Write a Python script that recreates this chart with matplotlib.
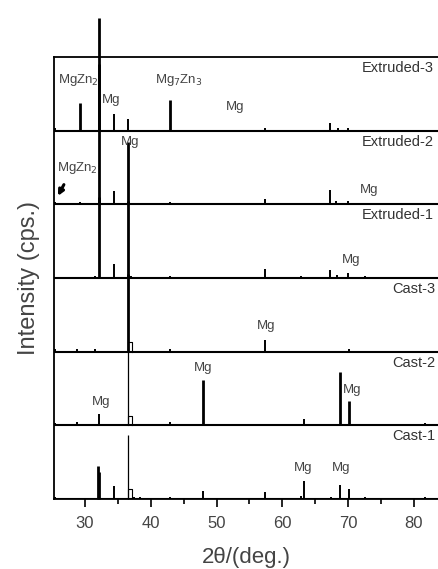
import matplotlib
matplotlib.use("Agg")
import matplotlib.pyplot as plt
from matplotlib.ticker import MultipleLocator

plt.rcParams['font.family'] = ['Liberation Sans', 'DejaVu Sans']

# samples, bottom to top
samples = ["Cast-1", "Cast-2", "Cast-3", "Extruded-1", "Extruded-2", "Extruded-3"]

# peak positions (2 theta, deg) and heights (in panel units) per sample
cast1_pos = [25.5, 32.0, 32.2, 34.4, 36.6, 37.5, 38.3, 43.0, 47.9, 57.4, 62.9, 63.3, 67.4, 68.8, 70.1, 72.6, 81.7]
cast1_h = [0.03, 0.45, 0.36, 0.17, 0.87, 0.03, 0.03, 0.03, 0.11, 0.10, 0.04, 0.25, 0.03, 0.19, 0.13, 0.03, 0.03]

cast2_pos = [25.5, 28.8, 32.2, 36.6, 43.0, 47.9, 63.3, 68.8, 70.1, 81.7]
cast2_h = [0.03, 0.04, 0.15, 1.05, 0.04, 0.62, 0.09, 0.73, 0.33, 0.03]

cast3_pos = [25.5, 28.8, 31.6, 36.5, 43.0, 57.4, 70.1]
cast3_h = [0.03, 0.03, 0.04, 1.05, 0.03, 0.16, 0.03]

ext1_pos = [31.5, 32.1, 34.4, 36.5, 37.0, 43.0, 57.4, 62.8, 67.3, 68.3, 70.0, 72.6]
ext1_h = [0.03, 1.10, 0.19, 1.05, 0.03, 0.03, 0.12, 0.03, 0.11, 0.04, 0.07, 0.03]

ext2_pos = [25.5, 29.2, 32.1, 34.4, 36.5, 43.0, 57.4, 67.3, 68.2, 70.0]
ext2_h = [0.03, 0.03, 1.90, 0.18, 0.84, 0.03, 0.07, 0.19, 0.05, 0.04]

ext3_pos = [25.5, 29.2, 32.1, 34.4, 36.5, 42.9, 57.4, 67.3, 68.5, 70.0]
ext3_h = [0.03, 0.38, 1.53, 0.23, 0.16, 0.41, 0.03, 0.10, 0.04, 0.03]

positions = [cast1_pos, cast2_pos, cast3_pos, ext1_pos, ext2_pos, ext3_pos]
heights = [cast1_h, cast2_h, cast3_h, ext1_h, ext2_h, ext3_h]

# small hollow reflection next to the main Mg peak in the cast samples
hollow_pos = 36.85
hollow_h = 0.13

# phase labels: (panel index, 2theta, height above baseline, text)
phase_labels = [
    (5, 25.9, 0.69, "MgZn$_2$"),
    (5, 34.0, 0.42, "Mg"),
    (5, 40.65, 0.69, "Mg$_7$Zn$_3$"),
    (5, 52.8, 0.32, "Mg"),
    (4, 25.75, 0.49, "MgZn$_2$"),
    (4, 36.85, 0.85, "Mg"),
    (4, 73.2, 0.19, "Mg"),
    (3, 70.4, 0.24, "Mg"),
    (2, 57.5, 0.35, "Mg"),
    (1, 32.4, 0.32, "Mg"),
    (1, 47.9, 0.78, "Mg"),
    (1, 70.6, 0.48, "Mg"),
    (0, 63.1, 0.42, "Mg"),
    (0, 68.9, 0.42, "Mg"),
]

fig = plt.figure(figsize=(4.39, 5.69), dpi=100)
ax = fig.add_axes([0.123, 0.123, 0.877, 0.777])

xmin, xmax = 25.3, 83.8
txt_col = '#444444'

for i, name in enumerate(samples):
    pos = positions[i]
    h = heights[i]
    # baseline
    ax.hlines(i, xmin, xmax, color='black', lw=1.5, zorder=3)
    for p, hh in zip(pos, h):
        if name in ("Cast-1", "Cast-2") and hh > 0.8:
            lw = 0.9
        elif hh > 0.3:
            lw = 2.0
        else:
            lw = 1.4
        ax.vlines(p, i, i + hh, color='black', lw=lw, clip_on=False, zorder=3)
    if name.startswith("Cast"):
        ax.plot([hollow_pos - 0.25, hollow_pos - 0.25, hollow_pos + 0.25, hollow_pos + 0.25],
                [i, i + hollow_h, i + hollow_h, i], color='black', lw=0.8, zorder=3)
    # sample name
    if name.startswith("Cast"):
        xn = 76.7
    else:
        xn = 72.0
    ax.text(xn, i + 0.85, name, fontsize=10.5, color='#333333', ha='left', va='center',
            clip_on=False)

for k, x, y, s in phase_labels:
    ha = 'left' if s.startswith("MgZn") or s.startswith("Mg$_7") else 'center'
    ax.text(x, k + y, s, fontsize=9.5, color=txt_col, ha=ha, va='center')

ax.annotate("", xy=(25.7, 4.08), xytext=(27.0, 4.30),
            arrowprops=dict(arrowstyle='-|>', color='black', lw=2.2, mutation_scale=8))

ax.set_xlim(xmin, xmax)
ax.set_ylim(0, 6)
ax.spines['right'].set_visible(False)
for s in ['left', 'top', 'bottom']:
    ax.spines[s].set_linewidth(1.3)
ax.set_yticks([])
ax.xaxis.set_major_locator(MultipleLocator(10))
ax.xaxis.set_minor_locator(MultipleLocator(5))
ax.tick_params(axis='x', which='major', direction='out', length=6, width=1.2,
               labelsize=12, labelcolor='#444444', pad=6)
ax.tick_params(axis='x', which='minor', direction='out', length=3.5, width=1.2)
ax.set_xticks([30, 40, 50, 60, 70, 80])

ax.set_xlabel("2θ/(deg.)", fontsize=16, color='#444444', labelpad=12)
ax.set_ylabel("Intensity (cps.)", fontsize=17, color='#444444', labelpad=10)

fig.savefig("out.png", dpi=100)
